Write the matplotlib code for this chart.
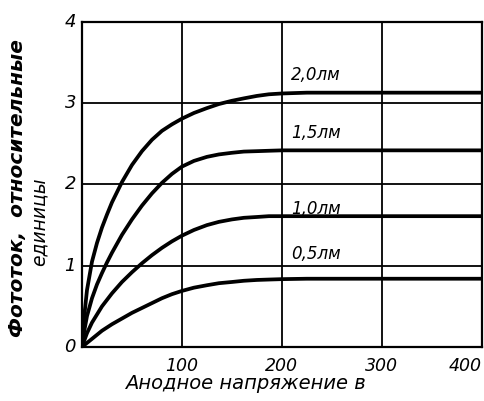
import numpy as np
import matplotlib
matplotlib.use("Agg")
import matplotlib.pyplot as plt

# anode voltage, V
volts = [0, 2, 5, 10, 15, 20, 25, 30, 40, 50, 60, 70, 80, 90, 100, 112, 125, 137,
         150, 162, 175, 187, 200, 225, 250, 300, 400]

# photocurrent (relative units) for each light flux
cur_20 = [0, 0.35, 0.70, 1.05, 1.28, 1.47, 1.63, 1.78, 2.03, 2.24, 2.41, 2.55, 2.66, 2.74,
          2.81, 2.88, 2.94, 2.99, 3.03, 3.06, 3.09, 3.11, 3.12, 3.13, 3.13, 3.13, 3.13]
cur_15 = [0, 0.18, 0.38, 0.60, 0.77, 0.91, 1.04, 1.16, 1.38, 1.57, 1.74, 1.89, 2.02, 2.13,
          2.22, 2.29, 2.34, 2.37, 2.39, 2.405, 2.41, 2.415, 2.42, 2.42, 2.42, 2.42, 2.42]
cur_10 = [0, 0.07, 0.17, 0.30, 0.40, 0.50, 0.58, 0.66, 0.80, 0.92, 1.03, 1.13, 1.22, 1.30,
          1.37, 1.44, 1.50, 1.54, 1.57, 1.59, 1.60, 1.61, 1.61, 1.61, 1.61, 1.61, 1.61]
cur_05 = [0, 0.02, 0.05, 0.10, 0.15, 0.20, 0.24, 0.28, 0.35, 0.42, 0.48, 0.54, 0.60, 0.65,
          0.69, 0.73, 0.76, 0.785, 0.80, 0.815, 0.825, 0.83, 0.835, 0.84, 0.84, 0.84, 0.84]

curve_names = ["2,0лм", "1,5лм", "1,0лм", "0,5лм"]
label_y = [3.35, 2.63, 1.70, 1.15]

xticks = [100, 200, 300, 400]
yticks = [0, 1, 2, 3, 4]

fig = plt.figure(figsize=(4.84, 4.01), dpi=100)
ax = fig.add_axes([0.1694, 0.1347, 0.826, 0.8105])

for vals in (cur_20, cur_15, cur_10, cur_05):
  ax.plot(volts, vals, color="black", lw=2.7, solid_capstyle="round",
          solid_joinstyle="round", zorder=3)

for name, ly in zip(curve_names, label_y):
  ax.text(234, ly, name, ha="center", va="center", fontsize=12,
          fontstyle="italic", color="black")

ax.set_xlim(0, 400)
ax.set_ylim(0, 4)
ax.set_xticks([100, 200, 300])
ax.set_xticklabels([])
ax.set_yticks(yticks)
ax.set_yticklabels([])
ax.tick_params(length=0)
ax.grid(True, color="black", lw=1.3)
for s in ax.spines.values():
  s.set_linewidth(1.6)

# tick labels placed by hand like in the print
for t in xticks:
  ax.text(t, -0.12, str(t), ha="right" if t == 400 else "center", va="top",
          fontsize=12.5, fontstyle="italic")
for t in yticks:
  ax.text(-6, t, str(t), ha="right", va="center", fontsize=13, fontstyle="italic")

ax.text(0.41, -0.111, "Анодное напряжение в", transform=ax.transAxes,
        ha="center", va="center", fontsize=14, fontstyle="italic")

fig.text(0.037, 0.53, "Фототок,  относительные", rotation=90, ha="center",
         va="center", fontsize=14.5, fontstyle="italic", fontweight="bold")
fig.text(0.080, 0.446, "единицы", rotation=90, ha="center",
         va="center", fontsize=13.5, fontstyle="italic")

fig.savefig("out.png", dpi=100)
